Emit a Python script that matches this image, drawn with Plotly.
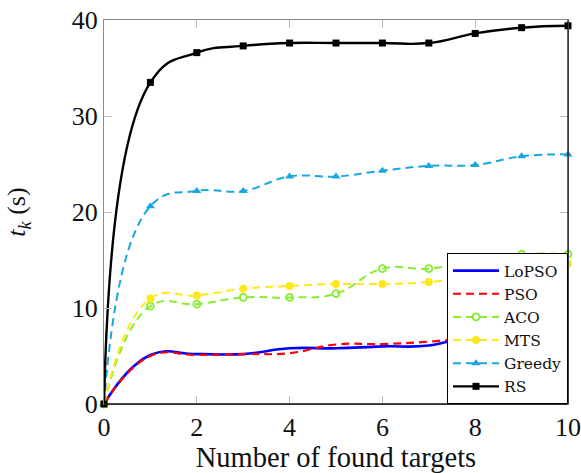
import plotly.graph_objects as go

x = [0, 1, 2, 3, 4, 5, 6, 7, 8, 9, 10]
lopso = [0, 5.1, 5.2, 5.2, 5.8, 5.8, 6.0, 6.1, 7.2, 7.5, 7.6]
pso = [0, 5.0, 5.1, 5.2, 5.3, 6.2, 6.25, 6.5, 7.0, 7.3, 7.5]
aco = [0, 10.2, 10.4, 11.1, 11.1, 11.5, 14.1, 14.1, 15.0, 15.6, 15.6]
mts = [0, 11.0, 11.3, 12.0, 12.3, 12.5, 12.5, 12.7, 13.3, 13.9, 14.6]
greedy = [0, 20.6, 22.2, 22.2, 23.7, 23.7, 24.3, 24.8, 24.9, 25.8, 26.0]
rs = [0, 33.5, 36.6, 37.3, 37.6, 37.6, 37.6, 37.6, 38.6, 39.2, 39.4]

x_ticks = [0, 2, 4, 6, 8, 10]
y_ticks = [0, 10, 20, 30, 40]

FONT = "Liberation Serif, DejaVu Serif, serif"
LEG_FONT = "DejaVu Serif, serif"

fig = go.Figure()

def add(name, y, color, width, dash, marker):
    fig.add_trace(go.Scatter(
        x=x, y=y, name=name, mode="lines+markers" if marker else "lines",
        line=dict(color=color, width=width, dash=dash, shape="spline", smoothing=1.3),
        marker=marker if marker else None,
        cliponaxis=False,
    ))

add("LoPSO", lopso, "#0000FF", 2.6, "solid", None)
add("PSO", pso, "#FF0000", 2.2, "8px,5px", None)
add("ACO", aco, "#86EE2E", 2.0, "8px,5px",
    dict(symbol="circle-open", size=7, color="#86EE2E", line=dict(width=1.8, color="#86EE2E")))
add("MTS", mts, "#FFE81A", 2.0, "8px,5px",
    dict(symbol="circle", size=8, color="#FFE81A"))
add("Greedy", greedy, "#1AA6DF", 2.0, "8px,5px",
    dict(symbol="triangle-up", size=8, color="#1AA6DF"))
add("RS", rs, "#000000", 2.4, "solid",
    dict(symbol="square", size=7, color="#000000"))

axis_common = dict(
    showgrid=False, zeroline=False, showline=True, linecolor="#8a8a8a", linewidth=1,
    mirror="ticks", ticks="inside", ticklen=8, tickcolor="#bdbdbd", tickwidth=1,
    tickfont=dict(family=FONT, size=26, color="#111"), automargin=False,
)

fig.update_layout(
    width=581, height=473,
    margin=dict(l=104, r=13, t=20, b=69),
    font=dict(family=FONT, color="#111"),
    paper_bgcolor="white", plot_bgcolor="white",
    xaxis=dict(range=[0, 10], tickvals=x_ticks, **axis_common,
               title=dict(text="Number of found targets", font=dict(family=FONT, size=28.5, color="#111"), standoff=8)),
    yaxis=dict(range=[0, 40], tickvals=y_ticks, **axis_common,
               title=dict(text="<i>t<sub>k</sub></i> (s)", font=dict(family=FONT, size=26, color="#111"), standoff=38)),
    legend=dict(x=1, y=0, xanchor="right", yanchor="bottom",
                bordercolor="#000", borderwidth=1, bgcolor="white",
                font=dict(family=LEG_FONT, size=15.5, color="#111"),
                itemwidth=46, tracegroupgap=0),
    showlegend=True,
    shapes=[
        dict(type="line", xref="paper", yref="paper", x0=0, x1=1, y0=0, y1=0,
             line=dict(color="#111", width=1.3), layer="above"),
        dict(type="line", xref="paper", yref="paper", x0=1, x1=1, y0=0, y1=1,
             line=dict(color="#111", width=1.3), layer="above"),
    ],
)

fig.write_html("out.html")
